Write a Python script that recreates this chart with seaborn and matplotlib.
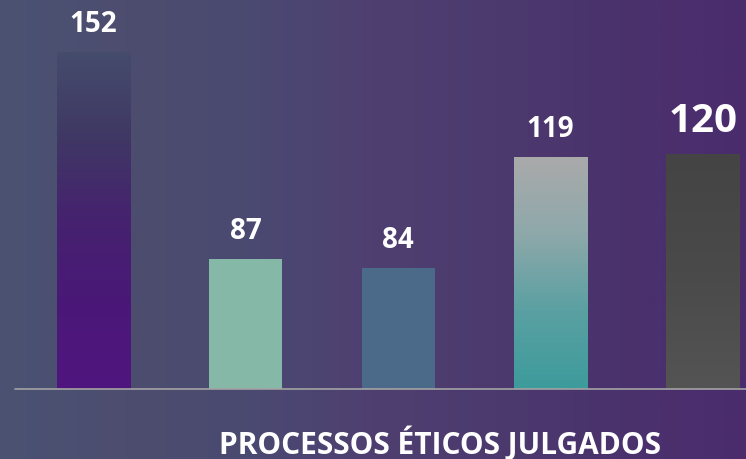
import numpy as np
import matplotlib.pyplot as plt
import seaborn as sns
from matplotlib.colors import LinearSegmentedColormap

categorias = ['Barra 1', 'Barra 2', 'Barra 3', 'Barra 4', 'Barra 5']
valores = [152, 87, 84, 119, 120]
titulo = 'PROCESSOS ÉTICOS JULGADOS'

cores = ['#4c1a7c', '#85b8a6', '#4b6a8a', '#7fa9a9', '#4a4a4a']
# gradientes de cima para baixo (None = cor lisa)
gradientes = [['#454c6c', '#3f3864', '#46226f', '#4a1878', '#50157f'],
              None, None,
              ['#aaaaaa', '#8ea8aa', '#5aa0a2', '#3d9b9b'],
              ['#444444', '#4a4a4a', '#545454']]
tamanhos = [20, 20, 20, 20, 29]

sns.set_theme(style='white')
plt.rcParams['font.family'] = ['Open Sans', 'DejaVu Sans']

fig = plt.figure(figsize=(7.46, 4.6), dpi=100)

# fundo em degradê
bg = fig.add_axes([0, 0, 1, 1], zorder=-1)
fundo = LinearSegmentedColormap.from_list(
    'fundo', ['#4a5272', '#4d4d6f', '#4a4a72', '#4f3f70', '#4c3a6e', '#4a326c', '#4a2c6e'])
bg.imshow(np.linspace(0, 1, 256)[None, :], cmap=fundo, aspect='auto', extent=[0, 1, 0, 1])
bg.axis('off')

ax = fig.add_axes([0, 70 / 460, 1, 390 / 460])
ax.set_facecolor('none')
base = 46
ax.set_ylim(base, base + 390 / 3.18)

sns.barplot(x=categorias, y=valores, hue=categorias, palette=cores, width=0.48,
            legend=False, saturation=1, linewidth=0, ax=ax)
ax.set_xlim(-0.613, 4.282)

for p, grad in zip(ax.patches, gradientes):
    if grad is None:
        continue
    x0, w, h = p.get_x(), p.get_width(), p.get_height()
    cmap = LinearSegmentedColormap.from_list('g', grad)
    im = ax.imshow(np.linspace(0, 1, 256)[:, None], cmap=cmap, aspect='auto',
                   extent=[x0, x0 + w, base, h], zorder=p.get_zorder() + 0.1)
    im.set_clip_path(p)

for p, v, s in zip(ax.patches, valores, tamanhos):
    ax.annotate(str(v), (p.get_x() + p.get_width() / 2, p.get_height()),
                xytext=(0, 10), textcoords='offset points', ha='center', va='bottom',
                color='white', fontsize=s, fontweight='bold')

ax.axhline(base, xmin=15 / 746, xmax=1, color='#a3a3a3', lw=1.2, clip_on=False, zorder=5)
ax.set_xticks([])
ax.set_yticks([])
ax.set_xlabel('')
ax.set_ylabel('')
sns.despine(ax=ax, left=True, bottom=True)

fig.text(440 / 746, 1 - 444 / 460, titulo, ha='center', va='center',
         color='white', fontsize=21.5, fontweight='bold')

fig.savefig('out.png', dpi=100)
